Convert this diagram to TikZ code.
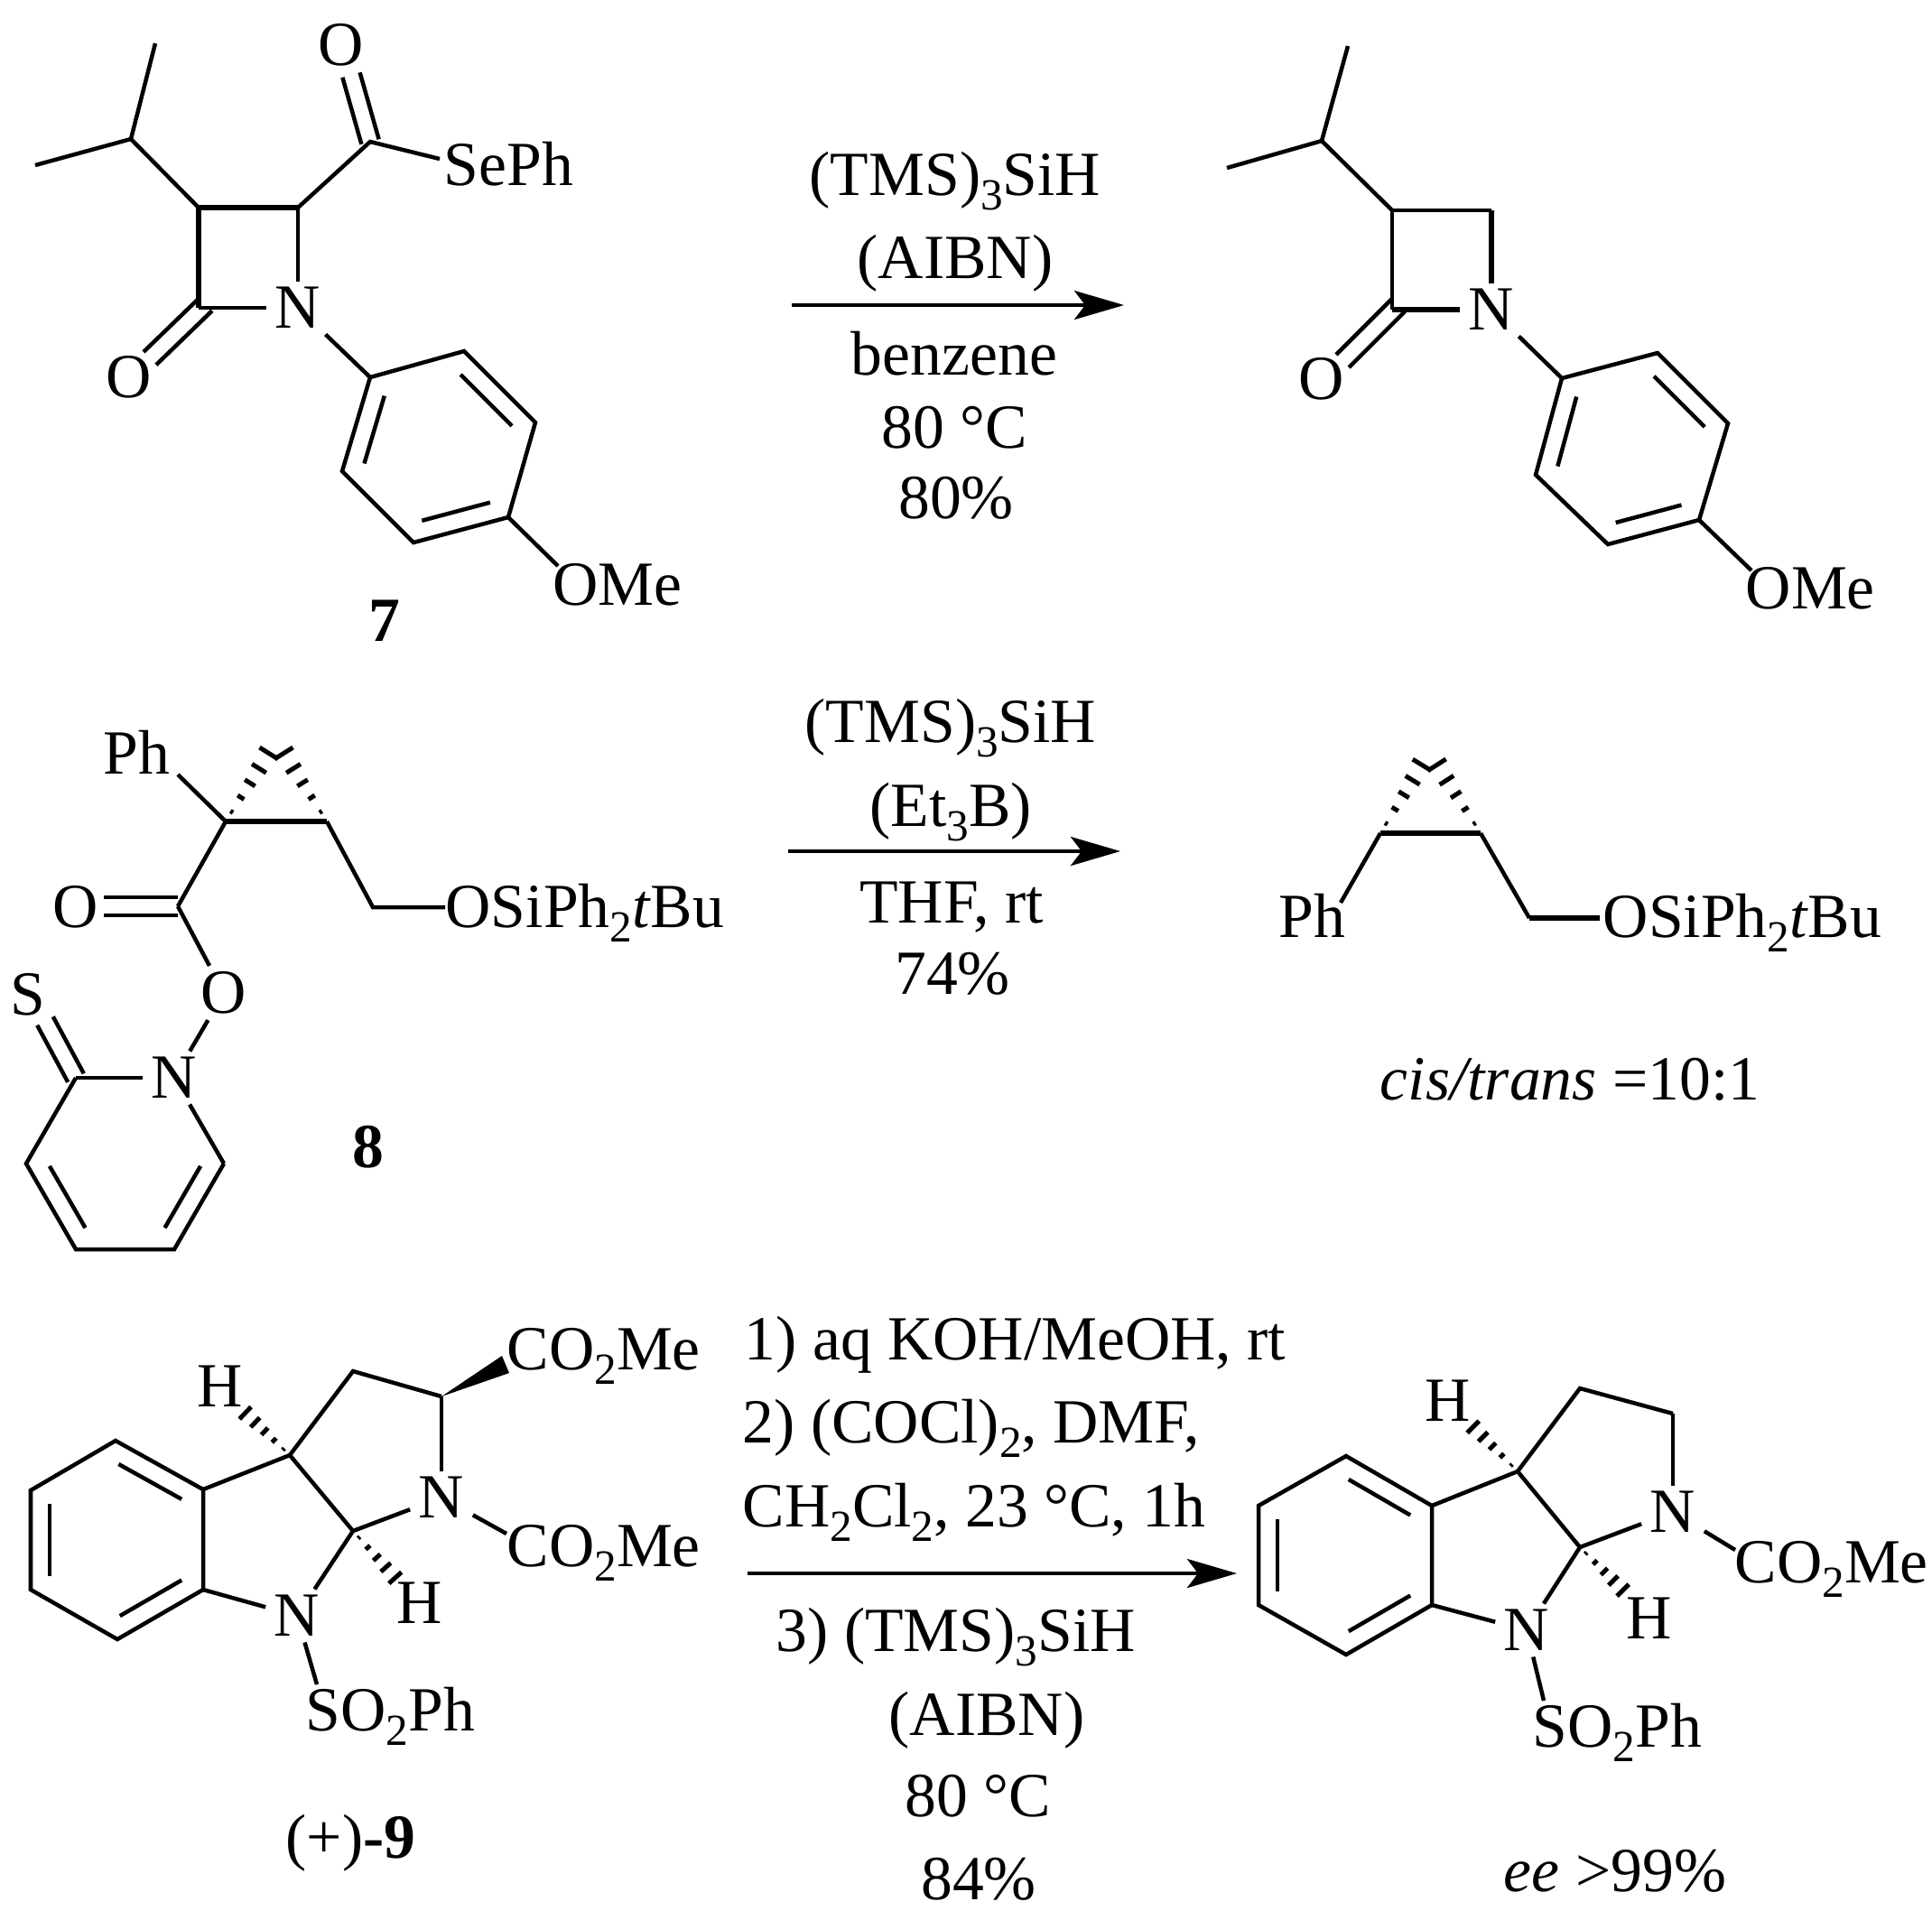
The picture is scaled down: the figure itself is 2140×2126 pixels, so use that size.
\documentclass[tikz,border=0pt]{standalone}
\usepackage{fontspec}
\setmainfont{Liberation Serif}
\usetikzlibrary{calc,arrows.meta}
\newcommand{\subs}[1]{\raisebox{-.16cm}{\fontsize{14}{14}\selectfont #1}}
% two parallel strokes
\newcommand{\dblbond}[2]{%
  \draw[bond] ($(#1)!.1cm!90:(#2)$) -- ($(#2)!.1cm!-90:(#1)$);
  \draw[bond] ($(#1)!.1cm!-90:(#2)$) -- ($(#2)!.1cm!90:(#1)$);}
% inner stroke of a ring, on the left of the travel
\newcommand{\innerbond}[2]{%
  \draw[bond] ($(#1)!.14!(#2)!.21cm!90:(#2)$) -- ($(#2)!.14!(#1)!.21cm!-90:(#1)$);}
\newcommand{\hashbond}[3]{%
  \foreach \hpos in {.12,.3,.48,.66,.85} {
    \draw[hash] ($(#1)!\hpos!(#2)!{\hpos*#3}!90:(#2)$) -- ($(#1)!\hpos!(#2)!{\hpos*#3}!-90:(#2)$);
  }}
\begin{document}
\begin{tikzpicture}[x=.01cm,y=-.01cm,every node/.style={font=\fontsize{19.8}{24}\selectfont}]
    \tikzset{bond/.style = {line width=.045cm,line join=miter}}
    \tikzset{bold/.style = {line width=.065cm,line join=miter}}
    \tikzset{hash/.style = {line width=.05cm}}
    \tikzset{atom/.style = {inner xsep=.09cm,inner ysep=.06cm}}
    \tikzset{group/.style = {inner sep=0pt,anchor=base west}}
    \tikzset{reagent/.style = {inner sep=0pt,anchor=base}}
    \tikzset{rxn/.style = {line width=.04cm,-{Stealth[length=.55cm,width=.32cm,inset=.12cm]}}}
    \useasboundingbox (0,0) rectangle (2140,2126);

    % compound 7
    \coordinate (a1) at (172,48);
    \coordinate (a2) at (145,154);
    \coordinate (a3) at (39,183);
    \coordinate (a4) at (220,230);
    \coordinate (a5) at (330,230);
    \coordinate (a6) at (220,341);
    \coordinate (a7) at (410,157);
    \coordinate (a8) at (389,83);
    \coordinate (a9) at (228,337);
    \coordinate (a10) at (166,397);
    \coordinate (a11) at (487,176);
    \coordinate (a12) at (618,627);
    \coordinate (r1) at (410,418);
    \coordinate (r2) at (514,389);
    \coordinate (r3) at (593,468);
    \coordinate (r4) at (563,573);
    \coordinate (r5) at (458,601);
    \coordinate (r6) at (379,522);
    \node[atom] (an) at (330,341) {N};
    \node[atom] (ao1) at (378,50) {O};
    \node[atom] (ao2) at (143,418) {O};
    \node[group] (ase) at (491,205) {SePh};
    \node[group] (aome) at (612,670) {OMe};
    \node[reagent] (alab) at (426,710) {\textbf{7}};
    \draw[bond] (a1) -- (a2) -- (a3);
    \draw[bond] (a2) -- (a4);
    \draw[bold] (a5) -- (a4) -- (a6);
    \draw[bond] (a6) -- (an);
    \draw[bond] (a5) -- (an);
    \draw[bond] (a5) -- (a7) -- (a11);
    \dblbond{a7}{a8}
    \dblbond{a9}{a10}
    \draw[bond] (an) -- (r1);
    \draw[bond] (r1) -- (r2) -- (r3) -- (r4) -- (r5) -- (r6) -- cycle;
    \draw[bond] (r4) -- (a12);
    \innerbond{r1}{r6}
    \innerbond{r5}{r4}
    \innerbond{r3}{r2}

    % product of 7
    \coordinate (b1) at (1493,51);
    \coordinate (b2) at (1464,156);
    \coordinate (b3) at (1359,186);
    \coordinate (b4) at (1542,233);
    \coordinate (b5) at (1652,233);
    \coordinate (b6) at (1542,343);
    \coordinate (b9) at (1549,338);
    \coordinate (b10) at (1487,400);
    \coordinate (b12) at (1940,632);
    \coordinate (s1) at (1730,419);
    \coordinate (s2) at (1836,391);
    \coordinate (s3) at (1914,469);
    \coordinate (s4) at (1882,576);
    \coordinate (s5) at (1781,603);
    \coordinate (s6) at (1701,526);
    \node[atom] (bn) at (1652,343) {N};
    \node[atom] (bo) at (1464,420) {O};
    \node[group] (bome) at (1933,674) {OMe};
    \draw[bond] (b1) -- (b2) -- (b3);
    \draw[bond] (b2) -- (b4);
    \draw[bond] (b5) -- (b4) -- (b6);
    \draw[bold] (b6) -- (bn);
    \draw[bold] (b5) -- (bn);
    \dblbond{b9}{b10}
    \draw[bond] (bn) -- (s1);
    \draw[bond] (s1) -- (s2) -- (s3) -- (s4) -- (s5) -- (s6) -- cycle;
    \draw[bond] (s4) -- (b12);
    \innerbond{s1}{s6}
    \innerbond{s5}{s4}
    \innerbond{s3}{s2}

    % first arrow
    \coordinate (p1) at (877,338);
    \coordinate (p2) at (1245,338);
    \draw[rxn] (p1) -- (p2);
    \node[reagent] (p3) at (1058,216) {(TMS)\subs{3}SiH};
    \node[reagent] (p4) at (1058,308) {(AIBN)};
    \node[reagent] (p5) at (1057,415) {benzene};
    \node[reagent] (p6) at (1057,496) {80 °C};
    \node[reagent] (p7) at (1059,574) {80\%};

    % compound 8
    \coordinate (c1) at (250,910);
    \coordinate (c2) at (362,910);
    \coordinate (c3) at (306,821);
    \coordinate (c4) at (197,858);
    \coordinate (c5) at (197,1004);
    \coordinate (c6) at (115,1004);
    \coordinate (c7) at (413,1005);
    \coordinate (c8) at (493,1005);
    \coordinate (c9) at (84,1194);
    \coordinate (c10) at (50,1131);
    \coordinate (t1) at (29,1289);
    \coordinate (t2) at (84,1384);
    \coordinate (t3) at (193,1384);
    \coordinate (t4) at (248,1289);
    \node[group] (cph) at (114,857) {Ph};
    \node[atom] (co1) at (84,1005) {O};
    \node[atom] (co2) at (248,1100) {O};
    \node[atom] (cn) at (193,1194) {N};
    \node[atom] (cs) at (31,1102) {S};
    \node[group] (csi) at (493,1027) {OSiPh\subs{2}\textit{t}Bu};
    \node[reagent] (clab) at (408,1293) {\textbf{8}};
    \draw[bond] (c1) -- (c4);
    \draw[bold] (c1) -- (c2);
    \hashbond{c1}{c3}{.14cm}
    \hashbond{c2}{c3}{.14cm}
    \draw[bond] (c1) -- (c5);
    \dblbond{c5}{c6}
    \draw[bond] (c2) -- (c7) -- (c8);
    \draw[bond] (c5) -- (co2);
    \draw[bond] (co2) -- (cn);
    \draw[bond] (c9) -- (cn);
    \dblbond{c9}{c10}
    \draw[bond] (c9) -- (t1) -- (t2) -- (t3) -- (t4);
    \draw[bond] (t4) -- (cn);
    \innerbond{t1}{t2}
    \innerbond{t3}{t4}

    % product of 8
    \coordinate (d1) at (1529,923);
    \coordinate (d2) at (1640,923);
    \coordinate (d3) at (1583,834);
    \coordinate (d4) at (1485,1000);
    \coordinate (d5) at (1694,1017);
    \coordinate (d6) at (1772,1017);
    \node[group] (dph) at (1416,1038) {Ph};
    \node[group] (dsi) at (1775,1038) {OSiPh\subs{2}\textit{t}Bu};
    \node[reagent] (dlab) at (1739,1218) {\textit{cis/trans} =10:1};
    \draw[bold] (d1) -- (d2);
    \hashbond{d1}{d3}{.14cm}
    \hashbond{d2}{d3}{.14cm}
    \draw[bond] (d1) -- (d4);
    \draw[bond] (d2) -- (d5);
    \draw[bold] (d5) -- (d6);

    % second arrow
    \coordinate (q1) at (873,943);
    \coordinate (q2) at (1241,943);
    \draw[rxn] (q1) -- (q2);
    \node[reagent] (q3) at (1053,822) {(TMS)\subs{3}SiH};
    \node[reagent] (q4) at (1053,915) {(Et\subs{3}B)};
    \node[reagent] (q5) at (1054,1022) {THF, rt};
    \node[reagent] (q6) at (1055,1101) {74\%};

    % compound 9
    \coordinate (e1) at (128,1596);
    \coordinate (e2) at (34,1651);
    \coordinate (e3) at (34,1761);
    \coordinate (e4) at (130,1816);
    \coordinate (e5) at (225,1761);
    \coordinate (e6) at (225,1650);
    \coordinate (e7) at (321,1612);
    \coordinate (e8) at (391,1519);
    \coordinate (e9) at (489,1547);
    \coordinate (e10) at (391,1696);
    \coordinate (e11) at (556,1502);
    \coordinate (e12) at (564,1521);
    \coordinate (e13) at (263,1557);
    \coordinate (e14) at (446,1757);
    \coordinate (e15) at (561,1699);
    \coordinate (e16) at (351,1866);
    \node[atom] (en1) at (489,1659) {N};
    \node[atom] (en2) at (329,1790) {N};
    \node[atom] (eh1) at (244,1536) {H};
    \node[atom] (eh2) at (465,1776) {H};
    \node[group] (eco1) at (561,1517) {CO\subs{2}Me};
    \node[group] (eco2) at (561,1735) {CO\subs{2}Me};
    \node[group] (eso) at (338,1917) {SO\subs{2}Ph};
    \node[group] (elab) at (316,2058) {(+)\textbf{-9}};
    \draw[bond] (e1) -- (e2) -- (e3) -- (e4) -- (e5) -- (e6) -- cycle;
    \innerbond{e6}{e1}
    \innerbond{e2}{e3}
    \innerbond{e4}{e5}
    \draw[bond] (e6) -- (e7) -- (e10);
    \draw[bond] (e7) -- (e8) -- (e9);
    \draw[bond] (e9) -- (en1);
    \draw[bond] (e10) -- (en1);
    \draw[bond] (e10) -- (en2);
    \draw[bond] (e5) -- (en2);
    \draw[bond] (en1) -- (e15);
    \draw[bond] (en2) -- (e16);
    \fill (e9) -- (e11) -- (e12) -- cycle;
    \hashbond{e7}{e13}{.11cm}
    \hashbond{e10}{e14}{.11cm}

    % product of 9
    \coordinate (f1) at (1491,1613);
    \coordinate (f2) at (1394,1668);
    \coordinate (f3) at (1394,1778);
    \coordinate (f4) at (1491,1833);
    \coordinate (f5) at (1586,1778);
    \coordinate (f6) at (1586,1668);
    \coordinate (f7) at (1681,1630);
    \coordinate (f8) at (1750,1538);
    \coordinate (f9) at (1853,1566);
    \coordinate (f10) at (1750,1714);
    \coordinate (f13) at (1623,1572);
    \coordinate (f14) at (1806,1770);
    \coordinate (f15) at (1922,1717);
    \coordinate (f16) at (1710,1884);
    \node[atom] (fn1) at (1853,1675) {N};
    \node[atom] (fn2) at (1691,1806) {N};
    \node[atom] (fh1) at (1604,1552) {H};
    \node[atom] (fh2) at (1827,1793) {H};
    \node[group] (fco) at (1921,1753) {CO\subs{2}Me};
    \node[group] (fso) at (1697,1935) {SO\subs{2}Ph};
    \node[reagent] (flab) at (1789,2095) {\textit{ee} >99\%};
    \draw[bond] (f1) -- (f2) -- (f3) -- (f4) -- (f5) -- (f6) -- cycle;
    \innerbond{f6}{f1}
    \innerbond{f2}{f3}
    \innerbond{f4}{f5}
    \draw[bond] (f6) -- (f7) -- (f10);
    \draw[bond] (f7) -- (f8) -- (f9);
    \draw[bond] (f9) -- (fn1);
    \draw[bond] (f10) -- (fn1);
    \draw[bond] (f10) -- (fn2);
    \draw[bond] (f5) -- (fn2);
    \draw[bond] (fn1) -- (f15);
    \draw[bond] (fn2) -- (f16);
    \hashbond{f7}{f13}{.11cm}
    \hashbond{f10}{f14}{.11cm}

    % third arrow
    \coordinate (u1) at (828,1743);
    \coordinate (u2) at (1370,1743);
    \draw[rxn] (u1) -- (u2);
    \node[group] (u3) at (824,1506) {1) aq KOH/MeOH, rt};
    \node[group] (u4) at (822,1598) {2) (COCl)\subs{2}, DMF,};
    \node[group] (u5) at (822,1691) {CH\subs{2}Cl\subs{2}, 23 °C, 1h};
    \node[group] (u6) at (859,1829) {3) (TMS)\subs{3}SiH};
    \node[reagent] (u7) at (1093,1922) {(AIBN)};
    \node[reagent] (u8) at (1083,2012) {80 °C};
    \node[reagent] (u9) at (1084,2104) {84\%};
\end{tikzpicture}
\end{document}
